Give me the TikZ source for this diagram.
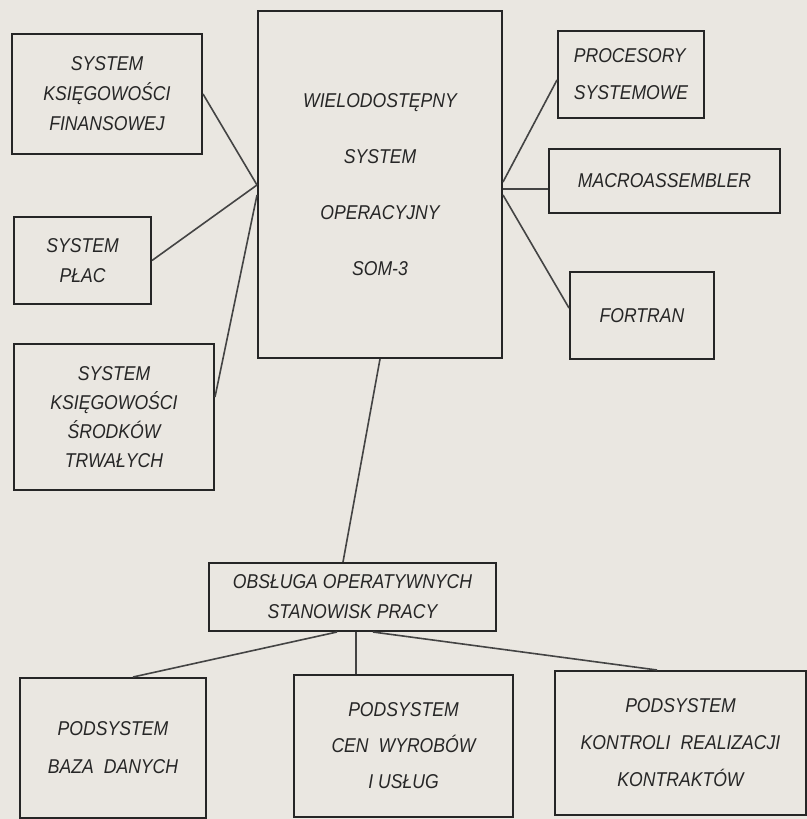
\documentclass[tikz,border=0pt]{standalone}
\usepackage{fontspec}
\setmainfont{Liberation Sans}[FakeStretch=0.88]
\usepackage{tikz}
\usetikzlibrary{positioning, calc}
\definecolor{paper}{HTML}{EAE7E1}
\definecolor{ink}{HTML}{262626}
\definecolor{wire}{HTML}{444444}

\begin{document}
\begin{tikzpicture}[x=0.5pt, y=-0.5pt,
  every node/.style={text=ink},
  unit/.style={rectangle, draw=ink, line width=1pt, inner sep=0pt,
               align=center, font=\itshape\fontsize{10}{15}\selectfont},
  lead/.style={font=\itshape\fontsize{10}{#1}\selectfont},
  wire/.style={draw=wire, line width=0.8pt},
]
  \fill[paper] (0,0) rectangle (807,819);
  \useasboundingbox (0,0) rectangle (807,819);

  % left column
  \node[unit, minimum width=95pt, minimum height=60pt, anchor=north west]
        at (11,33) (fin) {SYSTEM\\KSIĘGOWOŚCI\\FINANSOWEJ};
  \node[unit, minimum width=68.5pt, minimum height=43.5pt, anchor=north west]
        at (13,216) (plac) {SYSTEM\\PŁAC};
  \node[unit, lead=14.5, minimum width=100pt, minimum height=73pt, anchor=north west]
        at (13,343) (srodki) {SYSTEM\\KSIĘGOWOŚCI\\ŚRODKÓW\\TRWAŁYCH};

  % centre
  \node[unit, lead=28, minimum width=122pt, minimum height=173.5pt, anchor=north west]
        at (257,10) (som) {WIELODOSTĘPNY\\SYSTEM\\OPERACYJNY\\SOM-3};

  % right column
  \node[unit, lead=18.5, align=left, minimum width=73pt, minimum height=43.5pt,
        anchor=north west] at (557,30) (proc) {PROCESORY\\SYSTEMOWE};
  \node[unit, minimum width=115.5pt, minimum height=32pt, anchor=north west]
        at (548,148) (macro) {MACROASSEMBLER};
  \node[unit, minimum width=72pt, minimum height=43.5pt, anchor=north west]
        at (569,271) (fortran) {FORTRAN};

  % lower part
  \node[unit, minimum width=143.5pt, minimum height=34pt, anchor=north west]
        at (208,562) (obsl) {OBSŁUGA OPERATYWNYCH\\STANOWISK PRACY};
  \node[unit, lead=19, minimum width=93pt, minimum height=70pt, anchor=north west]
        at (19,677) (baza) {PODSYSTEM\\BAZA\enspace DANYCH};
  \node[unit, lead=18, minimum width=109.5pt, minimum height=71pt, anchor=north west]
        at (293,674) (ceny) {PODSYSTEM\\CEN\enspace WYROBÓW\\I USŁUG};
  \node[unit, lead=18.5, minimum width=125.5pt, minimum height=72pt, anchor=north west]
        at (554,670) (kontr) {PODSYSTEM\\KONTROLI\enspace REALIZACJI\\KONTRAKTÓW};

  \coordinate (som_l1) at (som.west |- 0,185);
  \coordinate (som_l2) at (som.west |- 0,195);
  \coordinate (som_r1) at (som.east |- 0,182);
  \coordinate (som_r2) at (som.east |- 0,189);
  \coordinate (som_r3) at (som.east |- 0,195);

  \draw[wire] ($(fin.north east)!0.5!(fin.south east)$) -- (som_l1);
  \draw[wire] (plac.east) -- (som_l1);
  \draw[wire] (srodki.east |- 0,397) -- (som_l2);

  \draw[wire] (som_r1) -- (proc.west |- 0,80);
  \draw[wire] (som_r2) -- (macro.west |- som_r2);
  \draw[wire] (som_r3) -- (fortran.west |- 0,308);

  \draw[wire] (som.south -| 380,0) -- (obsl.north -| 343,0);
  \draw[wire] (obsl.south -| 337,0) -- (baza.north -| 133,0);
  \draw[wire] (obsl.south -| 356,0) -- (ceny.north -| 356,0);
  \draw[wire] (obsl.south -| 373,0) -- (kontr.north -| 657,0);
\end{tikzpicture}
\end{document}
